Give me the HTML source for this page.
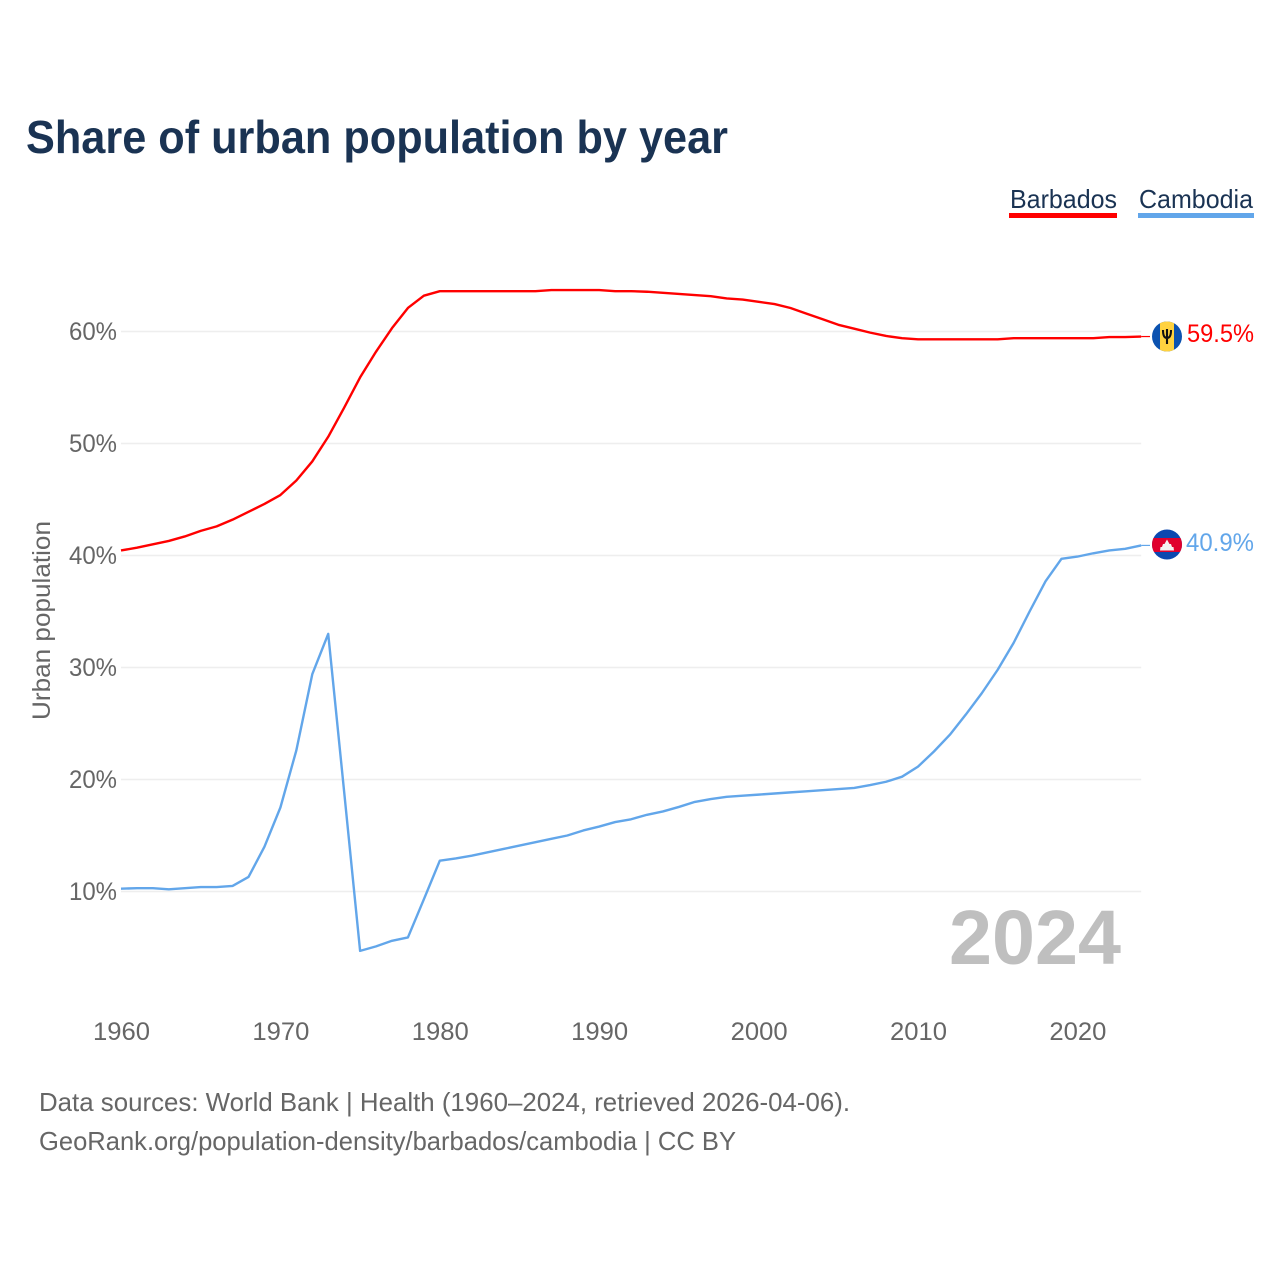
<!DOCTYPE html>
<html lang="en">
<head>
<meta charset="utf-8">
<title>Share of urban population by year</title>
<style>
html,body{margin:0;padding:0;background:#fff;}
svg{display:block;font-family:"Liberation Sans",Arial,sans-serif;}
</style>
</head>
<body>
<svg id="chart" xmlns="http://www.w3.org/2000/svg" width="1280" height="1280" viewBox="0 0 1280 1280">
  <rect width="1280" height="1280" fill="#fff"/>
  <text x="26" y="153" font-size="46" font-weight="700" fill="#1a3353" textLength="702" lengthAdjust="spacingAndGlyphs">Share of urban population by year</text>

  <g>
    <text x="1010" y="208" font-size="26" fill="#1a3353" textLength="107" lengthAdjust="spacingAndGlyphs">Barbados</text>
    <rect x="1009" y="213" width="108" height="5" fill="#ff0000"/>
  </g>
  <g>
    <text x="1139" y="208" font-size="26" fill="#1a3353" textLength="114" lengthAdjust="spacingAndGlyphs">Cambodia</text>
    <rect x="1138" y="213" width="116" height="5" fill="#62a6ea"/>
  </g>

  <text transform="translate(50,620.5) rotate(-90)" text-anchor="middle" font-size="25" fill="#666" textLength="199" lengthAdjust="spacingAndGlyphs">Urban population</text>

  <g id="grid"></g>
  <g id="yticks"></g>
  <g id="xticks"></g>
  <g id="series"></g>

  <text x="949" y="964" font-size="77" font-weight="700" fill="#bfbfbf" textLength="172" lengthAdjust="spacingAndGlyphs">2024</text>

  <defs>
    <clipPath id="clip-bb"><circle cx="1167" cy="336.5" r="15"/></clipPath>
    <clipPath id="clip-kh"><circle cx="1167" cy="544.5" r="15"/></clipPath>
  </defs>
  <g clip-path="url(#clip-bb)">
    <rect x="1152" y="321" width="30" height="31" fill="#0b52b0"/>
    <rect x="1160" y="321" width="14" height="31" fill="#ffd23f"/>
    <path d="M1163 330 C1163 337 1165 338 1167 338 C1169 338 1171 337 1171 330 M1167 329 V344" fill="none" stroke="#111" stroke-width="2.1"/>
  </g>
  <g clip-path="url(#clip-kh)">
    <rect x="1152" y="529" width="30" height="31" fill="#0b48b0"/>
    <rect x="1152" y="538" width="30" height="14" fill="#e0002d"/>
    <path d="M1160 550.5 L1160.5 547 H1162 L1163 544 H1164.5 L1167 539.5 L1169.5 544 H1171 L1172 547 H1173.5 L1174 550.5 Z" fill="#f4f0f0"/>
  </g>
  <text x="1187" y="342" font-size="25" fill="#ff0000" textLength="67" lengthAdjust="spacingAndGlyphs">59.5%</text>
  <text x="1186" y="551" font-size="25" fill="#62a6ea" textLength="68" lengthAdjust="spacingAndGlyphs">40.9%</text>

  <text x="39" y="1111" font-size="26" fill="#666" textLength="811" lengthAdjust="spacingAndGlyphs">Data sources: World Bank | Health (1960–2024, retrieved 2026-04-06).</text>
  <text x="39" y="1150" font-size="26" fill="#666" textLength="697" lengthAdjust="spacingAndGlyphs">GeoRank.org/population-density/barbados/cambodia | CC BY</text>
</svg>
<script>
const startYear = 1960;
const barbados = [40.45,40.7,41.0,41.3,41.7,42.2,42.6,43.2,43.9,44.6,45.4,46.7,48.4,50.6,53.2,55.9,58.2,60.3,62.1,63.2,63.6,63.6,63.6,63.6,63.6,63.6,63.6,63.7,63.7,63.7,63.7,63.6,63.6,63.55,63.45,63.35,63.25,63.15,62.95,62.85,62.65,62.45,62.1,61.6,61.1,60.6,60.25,59.9,59.6,59.4,59.3,59.3,59.3,59.3,59.3,59.3,59.4,59.4,59.4,59.4,59.4,59.4,59.5,59.5,59.55];
const cambodia = [10.25,10.3,10.3,10.2,10.3,10.4,10.4,10.5,11.3,14.0,17.5,22.6,29.4,33.0,18.9,4.7,5.1,5.6,5.9,9.3,12.75,12.95,13.2,13.5,13.8,14.1,14.4,14.7,15.0,15.45,15.8,16.2,16.45,16.85,17.15,17.55,18.0,18.25,18.45,18.55,18.65,18.75,18.85,18.95,19.05,19.15,19.25,19.5,19.8,20.25,21.15,22.5,24.0,25.8,27.7,29.8,32.2,35.0,37.7,39.7,39.9,40.2,40.45,40.6,40.9];
const yTickValues = [10,20,30,40,50,60];
const yTickLabels = ["10%","20%","30%","40%","50%","60%"];
const xTickValues = [1960,1970,1980,1990,2000,2010,2020];
const xTickLabels = ["1960","1970","1980","1990","2000","2010","2020"];

const NS = "http://www.w3.org/2000/svg";
function xScale(year){ return 121 + (year - 1960) * 15.94; }
function yScale(v){ return 891.5 - (v - 10) * 11.2; }

const grid = document.getElementById("grid");
const yticks = document.getElementById("yticks");
const xticks = document.getElementById("xticks");
const seriesGroup = document.getElementById("series");

yTickValues.forEach(function(v, i){
  const line = document.createElementNS(NS, "line");
  
  
  line.setAttribute("x1", xScale(1960));
  line.setAttribute("x2", xScale(2024));
  line.setAttribute("y1", yScale(v));
  line.setAttribute("y2", yScale(v));
  line.setAttribute("stroke", "#eeeeee");
  line.setAttribute("stroke-width", "1.6");
  grid.appendChild(line);

  const t = document.createElementNS(NS, "text");
  
  
  t.setAttribute("x", 117);
  t.setAttribute("y", yScale(v) + 8.5);
  t.setAttribute("text-anchor", "end");
  t.setAttribute("font-size", "25");
  t.setAttribute("fill", "#666");
  t.setAttribute("textLength", "48");
  t.setAttribute("lengthAdjust", "spacingAndGlyphs");
  t.textContent = yTickLabels[i];
  yticks.appendChild(t);
});

xTickValues.forEach(function(v, i){
  const t = document.createElementNS(NS, "text");
  
  
  t.setAttribute("x", xScale(v) + 0.5);
  t.setAttribute("y", 1040);
  t.setAttribute("text-anchor", "middle");
  t.setAttribute("font-size", "25");
  t.setAttribute("fill", "#666");
  t.setAttribute("textLength", "57");
  t.setAttribute("lengthAdjust", "spacingAndGlyphs");
  t.textContent = xTickLabels[i];
  xticks.appendChild(t);
});

function drawSeries(values, color, name){
  const pts = values.map(function(v, i){
    return xScale(startYear + i).toFixed(2) + "," + yScale(v).toFixed(2);
  });
  const line = document.createElementNS(NS, "polyline");
  
  
  line.setAttribute("points", pts.join(" "));
  line.setAttribute("fill", "none");
  line.setAttribute("stroke", color);
  line.setAttribute("stroke-width", "2.4");
  line.setAttribute("stroke-linejoin", "round");
  seriesGroup.appendChild(line);

  const lastIndex = values.length - 1;
  const tail = document.createElementNS(NS, "line");
  
  
  tail.setAttribute("x1", xScale(startYear + lastIndex));
  tail.setAttribute("x2", 1150);
  tail.setAttribute("y1", yScale(values[lastIndex]));
  tail.setAttribute("y2", yScale(values[lastIndex]));
  tail.setAttribute("stroke", color);
  tail.setAttribute("stroke-width", "1.2");
  seriesGroup.appendChild(tail);
}
drawSeries(barbados, "#ff0000", "line-barbados");
drawSeries(cambodia, "#62a6ea", "line-cambodia");
</script>
</body>
</html>
